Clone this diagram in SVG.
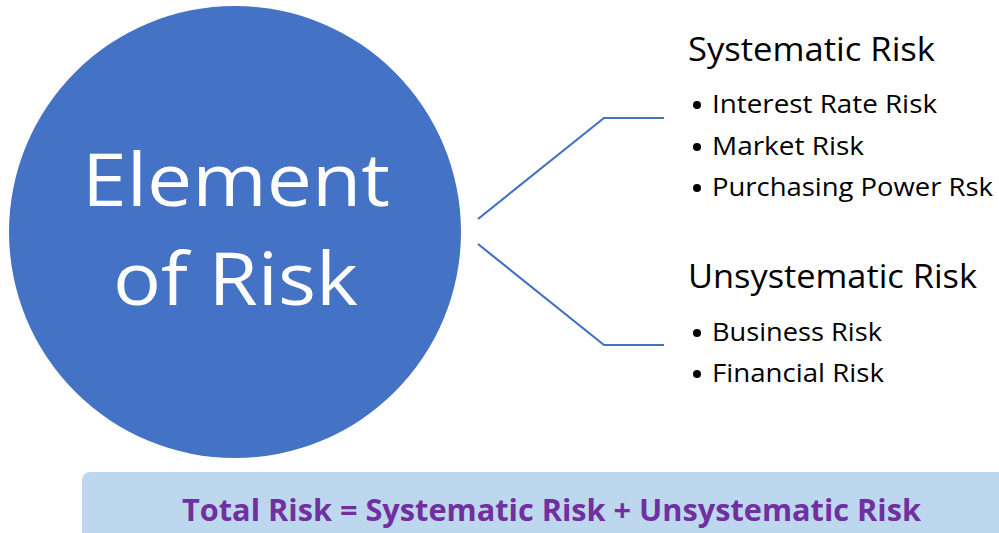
<svg xmlns="http://www.w3.org/2000/svg" width="999" height="533" viewBox="0 0 999 533">
<style>
.t{font-family:"Open Sans","Liberation Sans",sans-serif;fill:#000}
.h{font-size:32px}
.b{font-size:25px}
.c{font-family:"Open Sans","Liberation Sans",sans-serif;fill:#fff;font-size:74px}
.conn{fill:none;stroke:#4472C4;stroke-width:2.2}
</style>
<rect width="999" height="533" fill="#fff"/>
<g id="circle">
<circle cx="235" cy="232" r="226" fill="#4472C4"/>
<text class="c" x="82" y="206" textLength="308" lengthAdjust="spacingAndGlyphs">Element</text>
<text class="c" x="113" y="305" textLength="245" lengthAdjust="spacingAndGlyphs">of Risk</text>
</g>
<g id="connectors">
<polyline class="conn" points="478,219 604,118 664,118"/>
<polyline class="conn" points="478,244 604,345 664,345"/>
</g>
<g id="systematic">
<text class="t h" x="688" y="61" textLength="247" lengthAdjust="spacingAndGlyphs">Systematic Risk</text>
<circle cx="697" cy="105" r="4"/>
<text class="t b" x="712" y="113" textLength="225" lengthAdjust="spacingAndGlyphs">Interest Rate Risk</text>
<circle cx="697" cy="147" r="4"/>
<text class="t b" x="712" y="155" textLength="152" lengthAdjust="spacingAndGlyphs">Market Risk</text>
<circle cx="697" cy="188" r="4"/>
<text class="t b" x="712" y="196" textLength="281" lengthAdjust="spacingAndGlyphs">Purchasing Power Rsk</text>
</g>
<g id="unsystematic">
<text class="t h" x="688" y="288" textLength="289" lengthAdjust="spacingAndGlyphs">Unsystematic Risk</text>
<circle cx="697" cy="333" r="4"/>
<text class="t b" x="712" y="341" textLength="170" lengthAdjust="spacingAndGlyphs">Business Risk</text>
<circle cx="697" cy="374" r="4"/>
<text class="t b" x="712" y="382" textLength="172" lengthAdjust="spacingAndGlyphs">Financial Risk</text>
</g>
<g id="total">
<rect x="82" y="472" width="930" height="80" rx="8" fill="#BDD7EE"/>
<text x="182" y="521" textLength="739" lengthAdjust="spacingAndGlyphs" style="font-family:'Open Sans','Liberation Sans',sans-serif;font-weight:bold;font-size:30px;fill:#7030A0">Total Risk = Systematic Risk + Unsystematic Risk</text>
</g>
</svg>
